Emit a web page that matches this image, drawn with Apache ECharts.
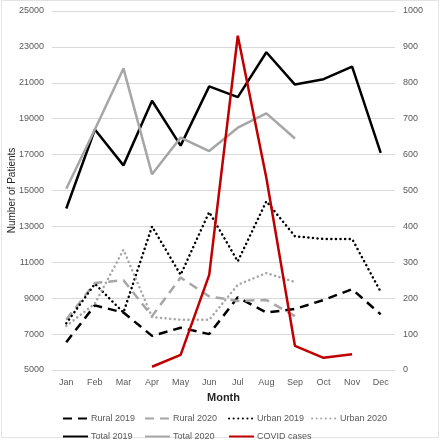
<!DOCTYPE html>
<html><head><meta charset="utf-8">
<script src="https://cdn.jsdelivr.net/npm/echarts@6/dist/echarts.min.js"></script>
<style>html,body{margin:0;padding:0;background:#fff}#c{width:440px;height:440px}</style>
</head><body><div id="c"></div>
<script>
const months = ['Jan','Feb','Mar','Apr','May','Jun','Jul','Aug','Sep','Oct','Nov','Dec'];
const rural2019 = [6550, 8600, 8200, 6900, 7350, 7000, 9050, 8200, 8400, 8900, 9500, 8100];
const rural2020 = [7800, 9850, 10000, 8000, 10150, 9100, 8850, 8900, 8000];
const urban2019 = [7600, 9800, 8200, 13000, 10300, 13800, 11050, 14400, 12450, 12300, 12300, 9350];
const urban2020 = [7450, 8700, 11700, 7950, 7800, 7800, 9750, 10400, 9900];
const total2019 = [14000, 18400, 16400, 20000, 17500, 20800, 20200, 22700, 20900, 21200, 21900, 17100];
const total2020 = [15100, 18400, 21800, 15900, 17950, 17200, 18500, 19300, 17900];
const covid = [null, null, null, 9, 42, 265, 931, 535, 67, 34, 44, null];

const txt = '#595959';
const ff = '"Liberation Sans", Arial, sans-serif';
const chart = echarts.init(document.getElementById('c'), null, {renderer:'canvas'});
function ser(name, data, color, type, yIdx){
  const dotted = type === 'dot';
  return {name, type:'line', data, yAxisIndex:yIdx||0, symbol:'none', smooth:false, connectNulls:false,
    lineStyle:{color, width:2.5, type: dotted ? [0.1,4.5] : (type||'solid'), cap: dotted?'round':'butt'},
    itemStyle:{color}};
}
function leg(name, left, top){
  return {left, top, data:[name], itemWidth:25, itemHeight:10, itemGap:0,
    itemStyle:{opacity:0}, textStyle:{color:txt, fontSize:9, fontFamily:ff, padding:[0,0,0,-2]}};
}
chart.setOption({
  animation:false,
  backgroundColor:'#fff',
  textStyle:{fontFamily:ff},
  graphic:[{type:'rect', shape:{x:1.5, y:0.5, width:437, height:437}, silent:true,
    style:{fill:'none', stroke:'#e3e3e3', lineWidth:1}}],
  grid:{left:52, right:45, top:11, bottom:70, containLabel:false, outerBoundsMode:'none'},
  xAxis:{type:'category', data:months, boundaryGap:true,
    name:'Month', nameLocation:'middle', nameGap:22, nameMoveOverlap:false,
    nameTextStyle:{color:'#262626', fontSize:11, fontWeight:'bold', fontFamily:ff},
    axisLine:{show:false}, axisTick:{show:false},
    axisLabel:{color:txt, fontSize:9, margin:8, fontFamily:ff}},
  yAxis:[{type:'value', min:5000, max:25000, interval:2000,
    name:'Number of Patients', nameLocation:'middle', nameGap:35, nameMoveOverlap:false,
    nameTextStyle:{color:'#262626', fontSize:10, fontFamily:ff},
    axisLabel:{color:txt, fontSize:9, margin:8, fontFamily:ff, formatter:v=>String(v)},
    splitLine:{lineStyle:{color:'#d9d9d9', width:1}}, axisLine:{show:false}, axisTick:{show:false}},
   {type:'value', min:0, max:1000, interval:100, position:'right',
    axisLabel:{color:txt, fontSize:9, margin:8, fontFamily:ff, formatter:v=>String(v)},
    splitLine:{show:false}, axisLine:{show:false}, axisTick:{show:false}}],
  legend:[leg('Rural 2019',57,409), leg('Rural 2020',139,409), leg('Urban 2019',223,409), leg('Urban 2020',306,409),
          leg('Total 2019',57,427), leg('Total 2020',139,427), leg('COVID cases',223,427)],
  series:[
    ser('Rural 2019', rural2019, '#000000', [9,6]),
    ser('Rural 2020', rural2020, '#a6a6a6', [9,6]),
    ser('Urban 2019', urban2019, '#000000', 'dot'),
    ser('Urban 2020', urban2020, '#a6a6a6', 'dot'),
    ser('Total 2019', total2019, '#000000', 'solid'),
    ser('Total 2020', total2020, '#a6a6a6', 'solid'),
    ser('COVID cases', covid, '#c00000', 'solid', 1)
  ]
});
</script></body></html>
